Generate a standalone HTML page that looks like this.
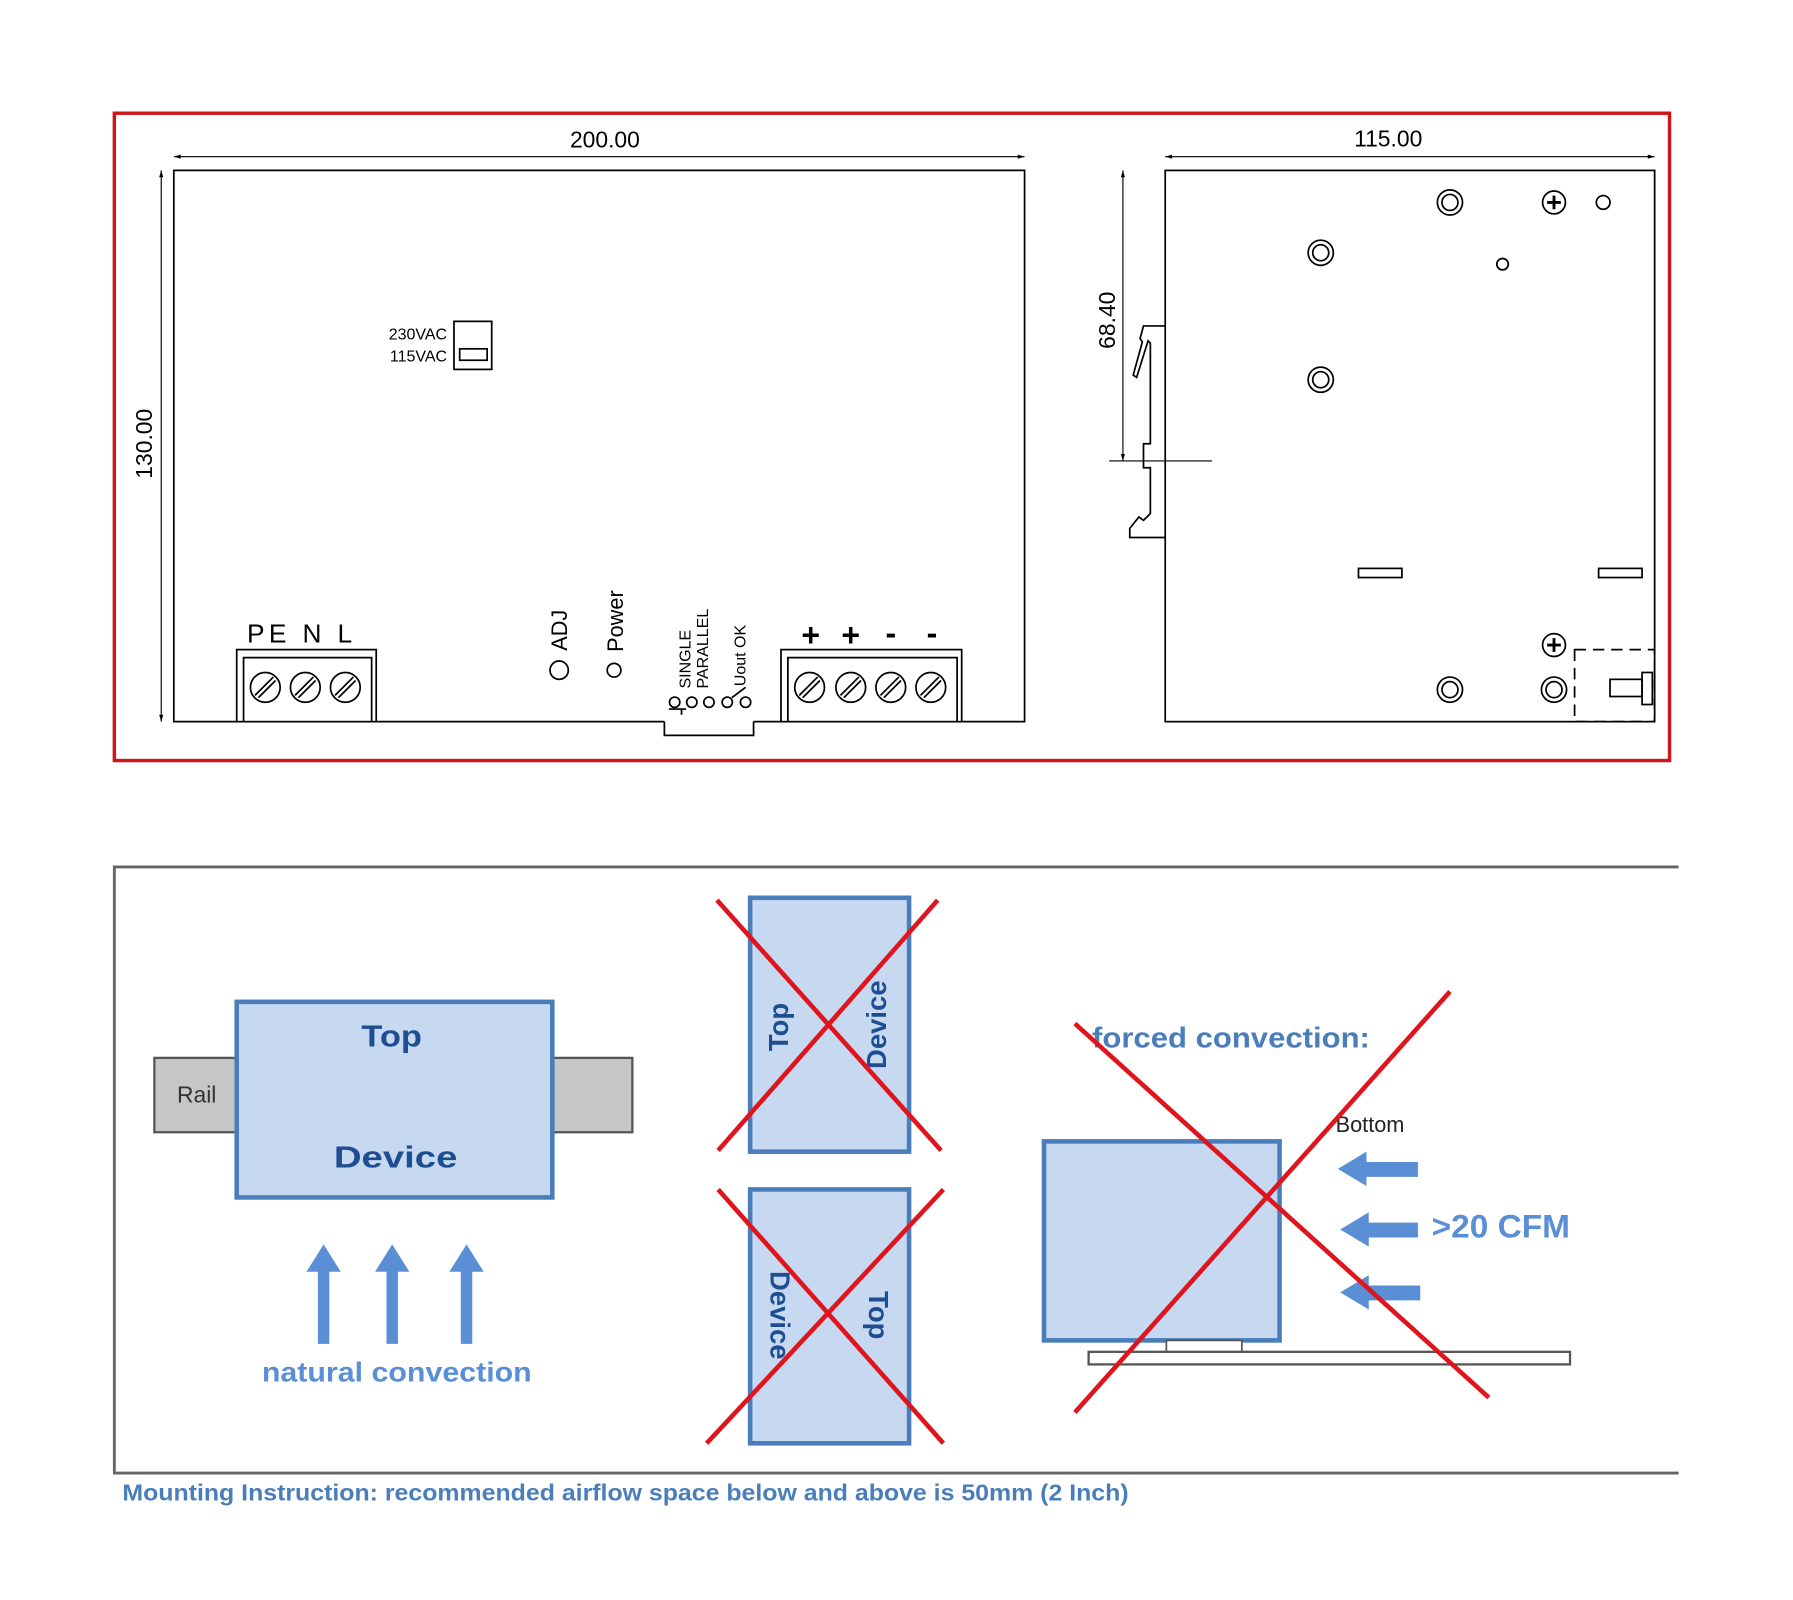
<!DOCTYPE html>
<html><head><meta charset="utf-8"><style>html,body{margin:0;padding:0;background:#fff}svg{display:block}</style></head><body>
<svg width="1793" height="1600" viewBox="0 0 1568 1399" preserveAspectRatio="none" xmlns="http://www.w3.org/2000/svg" font-family="Liberation Sans, sans-serif">
<defs>
<marker id="ar" viewBox="0 0 10 10" refX="10" refY="5" markerWidth="8" markerHeight="6" orient="auto-start-reverse"><path d="M0,2 L10,5 L0,8z" fill="#000"/></marker>
<g id="s"><circle cx="0" cy="0" r="13"/><path d="M-9,7 L7,-9 M-6,9 L9,-6"/></g>
</defs>
<rect width="1568" height="1399" fill="#fff"/>
<rect x="100" y="99" width="1360" height="566" fill="none" stroke="#d0141c" stroke-width="3"/>
<g stroke="#000" fill="none" stroke-width="1.5">
<line x1="152" y1="137" x2="896" y2="137" stroke-width="1" marker-start="url(#ar)" marker-end="url(#ar)"/>
<line x1="141" y1="149" x2="141" y2="631" stroke-width="1" marker-start="url(#ar)" marker-end="url(#ar)"/>
<path d="M207,631 H152 V149 H896 V631 H841"/>
<path d="M329,631 H581 M659,631 H683"/>
<rect x="207" y="568" width="122" height="63"/>
<path d="M213,631 V575 H325 V631"/>
<rect x="683" y="568" width="158" height="63"/>
<path d="M689,631 V575 H837 V631"/>
<path d="M581,631 V643 H659 V631"/>
<rect x="397" y="281" width="33" height="42"/>
<rect x="402" y="305" width="24" height="10"/>
<circle cx="489" cy="586" r="8"/>
<circle cx="537" cy="586" r="6"/>
<circle cx="590" cy="614" r="4.5"/><circle cx="605" cy="614" r="4.5"/><circle cx="620" cy="614" r="4.5"/><circle cx="636" cy="614" r="4.5"/><circle cx="652" cy="614" r="4.5"/>
<path d="M585,620 H600 M596,620 V625 M640,610 L652,601"/>
<line x1="1019" y1="137" x2="1447" y2="137" stroke-width="1" marker-start="url(#ar)" marker-end="url(#ar)"/>
<line x1="982" y1="149" x2="982" y2="403" stroke-width="1" marker-start="url(#ar)" marker-end="url(#ar)"/>
<line x1="970" y1="403" x2="1060" y2="403" stroke-width="1"/>
<rect x="1019" y="149" width="428" height="482"/>
<path d="M1019,285 H1000 L997,296 L999,299 L991,328 L994,330 L1004,298 L1006,300 V388 H1000 V409 H1006 V449 L1000,455 L996,452 L988,462 V470 H1019"/>
<circle cx="1268" cy="177" r="11"/><circle cx="1268" cy="177" r="7"/>
<circle cx="1155" cy="221" r="11"/><circle cx="1155" cy="221" r="7"/>
<circle cx="1155" cy="332" r="11"/><circle cx="1155" cy="332" r="7"/>
<circle cx="1268" cy="603" r="11"/><circle cx="1268" cy="603" r="7"/>
<circle cx="1359" cy="603" r="11"/><circle cx="1359" cy="603" r="7"/>
<circle cx="1359" cy="177" r="10"/><path d="M1353,177 H1365 M1359,171 V183" stroke-width="2.5"/>
<circle cx="1359" cy="564" r="10"/><path d="M1353,564 H1365 M1359,558 V570" stroke-width="2.5"/>
<circle cx="1402" cy="177" r="6"/>
<circle cx="1314" cy="231" r="5"/>
<rect x="1188" y="497" width="38" height="8"/>
<rect x="1398" y="497" width="38" height="8"/>
<rect x="1377" y="568" width="70" height="63" stroke-dasharray="10,6"/>
<rect x="1408" y="594" width="28" height="15"/>
<rect x="1436" y="588" width="9" height="28"/>
<use href="#s" x="232" y="601"/><use href="#s" x="267" y="601"/><use href="#s" x="302" y="601"/>
<use href="#s" x="708" y="601"/><use href="#s" x="744" y="601"/><use href="#s" x="779" y="601"/><use href="#s" x="814" y="601"/>
</g>
<g fill="#000">
<text x="529" y="129" font-size="20" text-anchor="middle">200.00</text>
<text x="1214" y="128" font-size="20" text-anchor="middle">115.00</text>
<text transform="translate(133,388) rotate(-90)" font-size="20" text-anchor="middle">130.00</text>
<text transform="translate(975,280) rotate(-90)" font-size="20" text-anchor="middle">68.40</text>
<text x="216" y="562" font-size="23" textLength="92" lengthAdjust="spacing">PE N  L</text>
<text x="391" y="297" font-size="14" text-anchor="end">230VAC</text>
<text x="391" y="316" font-size="14" text-anchor="end">115VAC</text>
<text transform="translate(496,569) rotate(-90)" font-size="19">ADJ</text>
<text transform="translate(545,570) rotate(-90)" font-size="19">Power</text>
<text transform="translate(604,602) rotate(-90)" font-size="14">SINGLE</text>
<text transform="translate(619,602) rotate(-90)" font-size="14">PARALLEL</text>
<text transform="translate(652,600) rotate(-90)" font-size="14">Uout OK</text>
<text x="709" y="565" font-size="28" font-weight="bold" text-anchor="middle">+</text>
<text x="744" y="565" font-size="28" font-weight="bold" text-anchor="middle">+</text>
<text x="779" y="563" font-size="28" font-weight="bold" text-anchor="middle">-</text>
<text x="815" y="563" font-size="28" font-weight="bold" text-anchor="middle">-</text>
</g>
<path d="M1468,758 H100 V1288 H1468" fill="none" stroke="#666" stroke-width="2.5"/>
<rect x="135" y="925" width="418" height="65" fill="#c6c6c6" stroke="#555" stroke-width="2"/>
<rect x="207" y="876" width="276" height="171" fill="#c6d9f0" stroke="#4a7ebb" stroke-width="4"/>
<text x="172" y="964" font-size="20" fill="#333" text-anchor="middle">Rail</text>
<text x="316" y="915" font-size="27" font-weight="bold" fill="#1f4d91" textLength="53" lengthAdjust="spacingAndGlyphs">Top</text>
<text x="292" y="1021" font-size="27" font-weight="bold" fill="#1f4d91" textLength="108" lengthAdjust="spacingAndGlyphs">Device</text>
<g fill="#5a8fd6">
<path d="M278,1175 V1112 H268 L283,1088 L298,1112 H288 V1175z"/>
<path d="M338,1175 V1112 H328 L343,1088 L358,1112 H348 V1175z"/>
<path d="M403,1175 V1112 H393 L408,1088 L423,1112 H413 V1175z"/>
<path d="M1240,1016 V1029 H1195 V1037 L1170,1022 L1195,1007 V1016z"/>
<path d="M1240,1069 V1082 H1197 V1090 L1172,1075 L1197,1060 V1069z"/>
<path d="M1242,1124 V1137 H1197 V1145 L1172,1130 L1197,1115 V1124z"/>
</g>
<text x="229" y="1208" font-size="24" font-weight="bold" fill="#5a8fd6" textLength="236" lengthAdjust="spacingAndGlyphs">natural convection</text>
<rect x="656" y="785" width="139" height="222" fill="#c6d9f0" stroke="#4a7ebb" stroke-width="4"/>
<rect x="656" y="1040" width="139" height="222" fill="#c6d9f0" stroke="#4a7ebb" stroke-width="4"/>
<text transform="translate(689,898) rotate(-90)" font-size="24" font-weight="bold" fill="#1f4d91" text-anchor="middle">Top</text>
<text transform="translate(775,896) rotate(-90)" font-size="24" font-weight="bold" fill="#1f4d91" text-anchor="middle">Device</text>
<text transform="translate(674,1150) rotate(90)" font-size="24" font-weight="bold" fill="#1f4d91" text-anchor="middle">Device</text>
<text transform="translate(760,1150) rotate(90)" font-size="24" font-weight="bold" fill="#1f4d91" text-anchor="middle">Top</text>
<rect x="913" y="998" width="206" height="174" fill="#c6d9f0" stroke="#4a7ebb" stroke-width="4"/>
<rect x="1020" y="1172" width="66" height="10" fill="#fff" stroke="#555" stroke-width="1.5"/>
<rect x="952" y="1182" width="421" height="11" fill="#fff" stroke="#555" stroke-width="2"/>
<text x="955" y="916" font-size="25" font-weight="bold" fill="#4a7ebb" textLength="243" lengthAdjust="spacingAndGlyphs">forced convection:</text>
<text x="1168" y="990" font-size="19" fill="#222">Bottom</text>
<text x="1252" y="1082" font-size="28" font-weight="bold" fill="#5a8fd6" textLength="121" lengthAdjust="spacingAndGlyphs">&gt;20 CFM</text>
<g stroke="#e0141c" stroke-width="4">
<line x1="627" y1="787" x2="823" y2="1006"/><line x1="820" y1="787" x2="628" y2="1006"/>
<line x1="628" y1="1040" x2="825" y2="1262"/><line x1="825" y1="1040" x2="618" y2="1262"/>
<line x1="940" y1="895" x2="1302" y2="1222"/><line x1="1268" y1="867" x2="940" y2="1235"/>
</g>
<text x="107" y="1312" font-size="20" font-weight="bold" fill="#4a7ebb" textLength="880" lengthAdjust="spacingAndGlyphs">Mounting Instruction: recommended airflow space below and above is 50mm (2 Inch)</text>
</svg>
</body></html>
